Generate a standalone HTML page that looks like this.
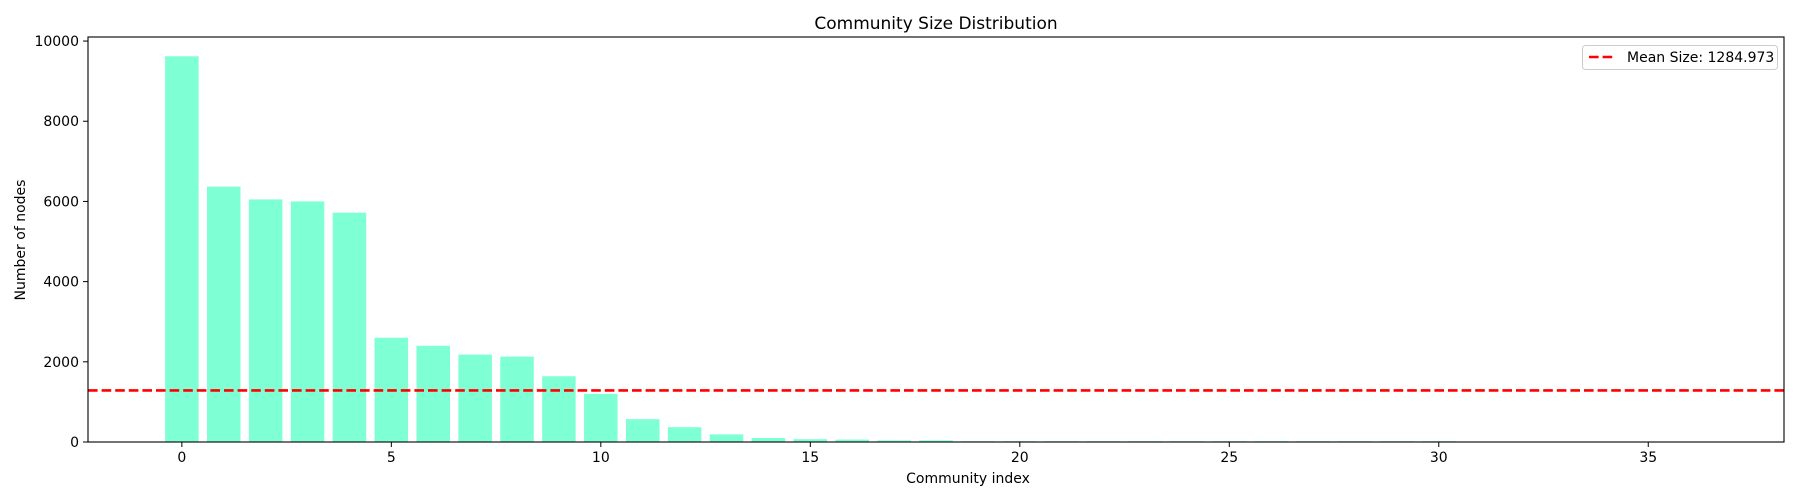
<!DOCTYPE html>
<html><head><meta charset="utf-8"><style>
body{margin:0;background:#fff}
svg{display:block;font-family:"DejaVu Sans","Liberation Sans",sans-serif}
</style></head><body>
<svg id="chart" width="1800" height="500" viewBox="0 0 1800 500">
<text x="936" y="29" font-size="17" text-anchor="middle">Community Size Distribution</text>
<text x="968" y="483" font-size="14" text-anchor="middle">Community index</text>
<text transform="translate(25,240) rotate(-90)" font-size="14" text-anchor="middle">Number of nodes</text>
<g id="bars"></g>
<g id="xt"></g>
<g id="yt"></g>
<line id="mean" stroke="#ff0000" stroke-width="2.6" stroke-dasharray="9.6,4"/>
<rect x="88" y="37" width="1696" height="405" fill="none" stroke="#000" stroke-width="1.1"/>
<g>
<rect x="1582.5" y="45.5" width="195" height="24" rx="3" fill="#fff" stroke="#ccc"/>
<line x1="1589" y1="57" x2="1616" y2="57" stroke="#ff0000" stroke-width="2.6" stroke-dasharray="9.6,4"/>
<text x="1627" y="62" font-size="14">Mean Size: 1284.973</text>
</g>
</svg>
<script>
const categories=[0,1,2,3,4,5,6,7,8,9,10,11,12,13,14,15,16,17,18,19,20,21,22,23,24,25,26,27,28,29,30,31,32,33,34,35,36];
const values=[9620,6370,6050,6000,5720,2600,2400,2180,2130,1640,1200,570,370,190,100,70,60,40,40,20,20,20,20,20,20,20,20,20,20,20,20,0,0,0,0,0,0];
const meanValue=1284.973;
const xTicks=[0,5,10,15,20,25,30,35];
const yTicks=[0,2000,4000,6000,8000,10000];
const L=88,R=1784,T=37,B=442;
const xmin=-0.4-0.05*(categories.length-0.2), xmax=categories.length-0.6+0.05*(categories.length-0.2);
const ymax=Math.max(...values)*1.05;
const xs=v=>L+(v-xmin)/(xmax-xmin)*(R-L);
const ys=v=>B-v/ymax*(B-T);
const NS="http://www.w3.org/2000/svg";
const bars=document.getElementById('bars');
categories.forEach((c,i)=>{
 const r=document.createElementNS(NS,'rect');
 const x0=xs(c-0.4),x1=xs(c+0.4);
 r.setAttribute('x',x0);r.setAttribute('width',x1-x0);
 r.setAttribute('y',ys(values[i]));r.setAttribute('height',B-ys(values[i]));
 r.setAttribute('fill','#7fffd4');
 
 
 bars.appendChild(r);
});
const xt=document.getElementById('xt');
xTicks.forEach(t=>{
 const x=xs(t);
 const l=document.createElementNS(NS,'line');
 l.setAttribute('x1',x);l.setAttribute('x2',x);l.setAttribute('y1',B);l.setAttribute('y2',B+5);l.setAttribute('stroke','#000');
 
 
 xt.appendChild(l);
 const tx=document.createElementNS(NS,'text');
 tx.setAttribute('x',x);tx.setAttribute('y',B+20);tx.setAttribute('font-size','14');tx.setAttribute('text-anchor','middle');
 tx.textContent=t;
 
 
 xt.appendChild(tx);
});
const yt=document.getElementById('yt');
yTicks.forEach(t=>{
 const y=ys(t);
 const l=document.createElementNS(NS,'line');
 l.setAttribute('x1',L-5);l.setAttribute('x2',L);l.setAttribute('y1',y);l.setAttribute('y2',y);l.setAttribute('stroke','#000');
 
 
 yt.appendChild(l);
 const tx=document.createElementNS(NS,'text');
 tx.setAttribute('x',L-9);tx.setAttribute('y',y+5);tx.setAttribute('font-size','14');tx.setAttribute('text-anchor','end');
 tx.textContent=t;
 
 
 yt.appendChild(tx);
});
const m=document.getElementById('mean');
m.setAttribute('x1',L);m.setAttribute('x2',R);m.setAttribute('y1',ys(meanValue));m.setAttribute('y2',ys(meanValue));
</script>
</body></html>
